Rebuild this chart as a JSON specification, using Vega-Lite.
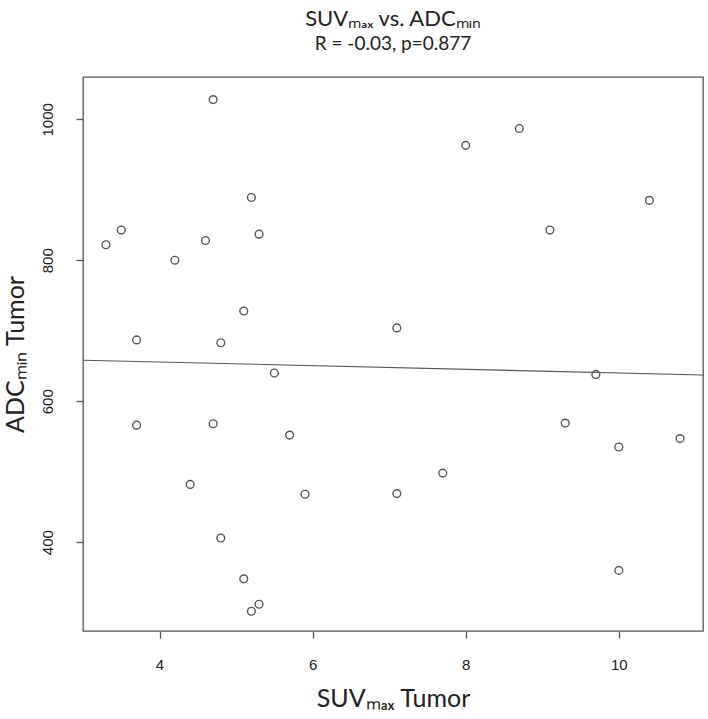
{
  "$schema": "https://vega.github.io/schema/vega-lite/v6.json",
  "autosize": "none",
  "width": 620,
  "height": 554,
  "padding": {"left": 83, "top": 77, "right": 5, "bottom": 88},
  "background": "white",
  "title": {
    "text": "SUVₘₐₓ vs. ADCₘᵢₙ",
    "subtitle": "R = -0.03, p=0.877",
    "font": "Lato",
    "fontSize": 22,
    "fontWeight": "normal",
    "color": "#222",
    "subtitleFont": "Lato",
    "subtitleFontSize": 19,
    "subtitleColor": "#222",
    "subtitlePadding": 4,
    "offset": 22,
    "anchor": "middle"
  },
  "config": {
    "view": {"stroke": "#555", "strokeWidth": 1.3},
    "axis": {
      "grid": false,
      "domain": false,
      "tickColor": "#555",
      "tickSize": 7,
      "tickWidth": 1.3,
      "labelFont": "Liberation Sans",
      "labelFontSize": 15,
      "labelColor": "#222",
      "titleFont": "Lato",
      "titleFontSize": 25,
      "titleFontWeight": "normal",
      "titleColor": "#222"
    }
  },
  "data": {
    "values": [
      {"suv": 3.3, "adc": 822}, {"suv": 3.5, "adc": 843}, {"suv": 3.7, "adc": 687}, {"suv": 3.7, "adc": 566},
      {"suv": 4.2, "adc": 800}, {"suv": 4.4, "adc": 482}, {"suv": 4.6, "adc": 828}, {"suv": 4.7, "adc": 1028},
      {"suv": 4.7, "adc": 568}, {"suv": 4.8, "adc": 683}, {"suv": 4.8, "adc": 406}, {"suv": 5.1, "adc": 728},
      {"suv": 5.1, "adc": 348}, {"suv": 5.2, "adc": 889}, {"suv": 5.2, "adc": 302}, {"suv": 5.3, "adc": 837},
      {"suv": 5.3, "adc": 312}, {"suv": 5.5, "adc": 640}, {"suv": 5.7, "adc": 552}, {"suv": 5.9, "adc": 468},
      {"suv": 7.1, "adc": 704}, {"suv": 7.1, "adc": 469}, {"suv": 7.7, "adc": 498}, {"suv": 8.0, "adc": 963},
      {"suv": 8.7, "adc": 987}, {"suv": 9.1, "adc": 843}, {"suv": 9.3, "adc": 569}, {"suv": 9.7, "adc": 638},
      {"suv": 10.0, "adc": 535}, {"suv": 10.0, "adc": 360}, {"suv": 10.4, "adc": 885}, {"suv": 10.8, "adc": 547}
    ]
  },
  "encoding": {
    "x": {
      "field": "suv", "type": "quantitative",
      "scale": {"domain": [3.0, 11.1], "nice": false, "zero": false},
      "axis": {"values": [4, 6, 8, 10], "format": "d", "title": "SUVₘₐₓ Tumor", "labelPadding": 19, "titlePadding": 14}
    },
    "y": {
      "field": "adc", "type": "quantitative",
      "scale": {"domain": [274, 1060], "nice": false, "zero": false},
      "axis": {"values": [400, 600, 800, 1000], "format": "d", "title": "ADCₘᵢₙ Tumor", "labelAngle": -90, "labelAlign": "center", "labelBaseline": "bottom", "labelPadding": 21, "titlePadding": 12}
    }
  },
  "layer": [
    {
      "mark": {"type": "point", "shape": "circle", "filled": false, "stroke": "#555", "strokeWidth": 1.4, "size": 60, "opacity": 1}
    },
    {
      "transform": [{"regression": "adc", "on": "suv", "extent": [3.0, 11.1]}],
      "mark": {"type": "line", "color": "#555", "strokeWidth": 1.1, "clip": true}
    }
  ]
}
